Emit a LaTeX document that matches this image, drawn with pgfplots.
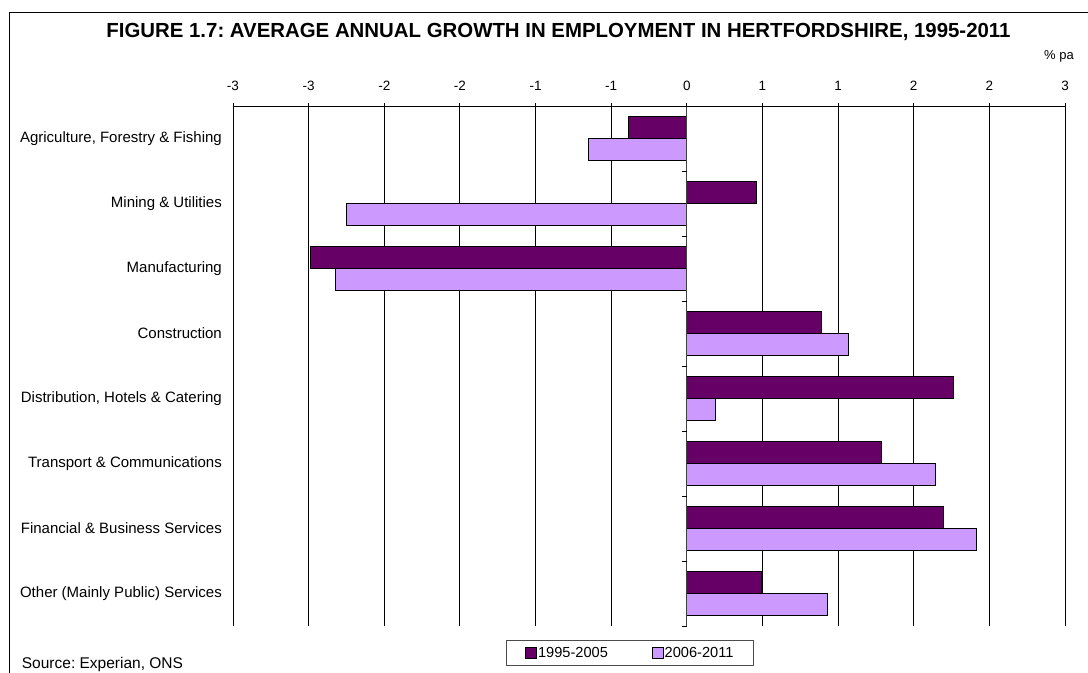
\documentclass[border=0pt]{standalone}
\usepackage{pgfplots}
\pgfplotsset{compat=1.18}
\usepackage{fontspec}
\setmainfont{Liberation Sans}
\definecolor{darkp}{HTML}{660066}
\definecolor{lightp}{HTML}{CC99FF}
\frenchspacing
\begin{document}
\begin{tikzpicture}
\begin{axis}[
  at={(233bp,-106bp)}, anchor=north west,
  scale only axis, width=832bp, height=520bp,
  xmin=-3, xmax=2.5, ymin=-0.5, ymax=7.5,
  axis x line*=top, axis y line*=left,
  y axis line style={draw=none},
  x axis line style={black, line width=0.9bp},
  xtick={-3,-2.5,-2,-1.5,-1,-0.5,0,0.5,1,1.5,2,2.5},
  xticklabels={-3,-3,-2,-2,-1,-1,0,1,1,2,2,3},
  xtick align=center,
  major tick length=7bp,
  xtick style={black, line width=0.9bp},
  xticklabel style={font=\fontsize{13.5bp}{15bp}\selectfont, inner sep=0pt},
  xticklabel shift=11.5bp,
  ytick={0,1,2,3,4,5,6,7},
  yticklabels={Other (Mainly Public) Services, Financial \& Business Services, Transport \& Communications, {Distribution, Hotels \& Catering}, Construction, Manufacturing, Mining \& Utilities, {Agriculture, Forestry \& Fishing}},
  ytick style={draw=none},
  yticklabel style={font=\fontsize{15bp}{18bp}\selectfont, inner sep=0pt, xshift=-4bp},
  xmajorgrids, grid style={black, line width=0.9bp},
  xbar, bar width=21.7bp,
  legend image code/.code={\draw[#1, line width=0.8bp] (0bp,-5.5bp) rectangle (11bp,5.5bp);},
  legend columns=2,
  legend style={at={(axis description cs:0.328,-0.027)}, anchor=north west, draw=black!70, line width=0.8bp, inner xsep=19bp, inner ysep=5.5bp, nodes={inner sep=1bp}, font=\fontsize{14.6bp}{16bp}\selectfont, /tikz/every even column/.append style={column sep=43bp}},
]
\addplot[fill=darkp, draw=black, line width=0.9bp, bar shift=10.85bp] coordinates {(0.496,0) (1.696,1) (1.287,2) (1.765,3) (0.89,4) (-2.487,5) (0.463,6) (-0.383,7)};
\addplot[fill=lightp, draw=black, line width=0.9bp, bar shift=-10.85bp] coordinates {(0.927,0) (1.912,1) (1.641,2) (0.19,3) (1.066,4) (-2.325,5) (-2.247,6) (-0.65,7)};
\legend{1995-2005, 2006-2011}
\draw[black!75, line width=1.1bp] (axis cs:0,-0.5) -- (axis cs:0,7.5);
\pgfplotsinvokeforeach{-0.5,0.5,1.5,2.5,3.5,4.5,5.5,6.5,7.5}{
  \draw[black, line width=0.9bp] (axis cs:0,#1) -- ++(-5bp,0bp);
}
\end{axis}
\begin{scope}[x=1bp,y=-1bp]
\draw[black, line width=1bp] (9,1000) -- (9,12) -- (1200,12);
\node[font=\bfseries\fontsize{20.4bp}{24bp}\selectfont, anchor=base, inner sep=0] at (558.5,37.6) {FIGURE 1.7: AVERAGE ANNUAL GROWTH IN EMPLOYMENT IN HERTFORDSHIRE, 1995-2011};
\node[font=\fontsize{13bp}{15bp}\selectfont, anchor=base west, inner sep=0] at (1044,59) {\% pa};
\node[font=\fontsize{15.5bp}{18bp}\selectfont, anchor=base west, inner sep=0] at (21.7,668) {Source: Experian, ONS};
\end{scope}
\pgfresetboundingbox
\path[use as bounding box] (0,0) rectangle (1088bp,-673bp);
\end{tikzpicture}
\end{document}
